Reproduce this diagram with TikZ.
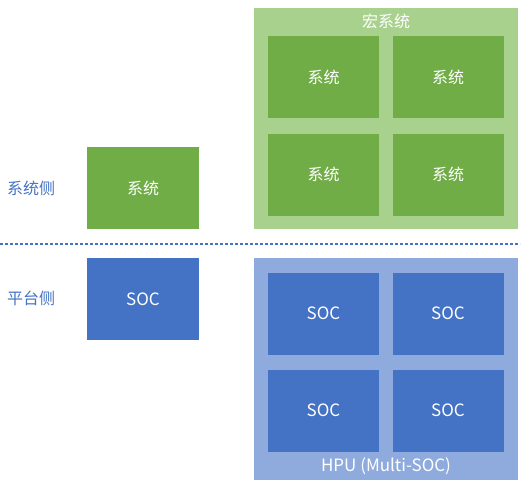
\documentclass[tikz,border=0pt]{standalone}
\usepackage{fontspec}
\setmainfont{Noto Sans CJK SC}
\definecolor{lightgreen}{RGB}{169,209,142}
\definecolor{darkgreen}{RGB}{112,173,71}
\definecolor{lightblue}{RGB}{143,170,220}
\definecolor{darkblue}{RGB}{68,114,196}
\tikzset{
    outerbox/.style={anchor=north west,inner sep=0pt,outer sep=0pt},
    sysbox/.style={fill=darkgreen,text=white,minimum width=111pt,minimum height=82pt,inner sep=0pt,font=\fontsize{16}{19}\selectfont},
    socbox/.style={fill=darkblue,text=white,minimum width=111pt,minimum height=82pt,inner sep=0pt,font=\fontsize{17}{20}\selectfont},
    sidelabel/.style={text=darkblue,inner sep=0.75pt,font=\fontsize{16}{19}\selectfont}
}
\begin{document}
\begin{tikzpicture}[x=1pt,y=1pt,yscale=-1,xscale=1]
        \useasboundingbox (0,0) rectangle (524,488);

        % Macro system frame
        \node [outerbox,fill=lightgreen,minimum width=264pt,minimum height=221pt] (macro) at (254,8) {};
        \node [text=white,inner sep=0.75pt,font=\fontsize{16}{19}\selectfont] (macrolabel) at (386,21) {宏系统};
        \node [sysbox] (sys11) at (323.5,77) {系统};
        \node [sysbox] (sys12) at (448,77) {系统};
        \node [sysbox] (sys21) at (323.5,174.5) {系统};
        \node [sysbox] (sys22) at (448,174.5) {系统};

        % Single system / SOC
        \node [sysbox,minimum width=112pt] (sys) at (143,188) {系统};
        \node [socbox,minimum width=112pt] (soc) at (143,299) {SOC};

        % Side labels
        \node [sidelabel] (syside) at (31,188) {系统侧};
        \node [sidelabel] (platside) at (31,298) {平台侧};

        % Divider
        \coordinate (divl) at (0,244);
        \coordinate (divr) at (520,244);
        \draw [darkblue,line width=1.5pt,dash pattern=on 3pt off 2pt] (divl) -- (divr);

        % HPU frame
        \node [outerbox,fill=lightblue,minimum width=264pt,minimum height=222pt] (hpu) at (254,258) {};
        \node [socbox] (soc11) at (323.5,313.5) {SOC};
        \node [socbox] (soc12) at (448,313.5) {SOC};
        \node [socbox] (soc21) at (323.5,410.5) {SOC};
        \node [socbox] (soc22) at (448,410.5) {SOC};
        \node [text=white,inner sep=0.75pt,font=\fontsize{17}{20}\selectfont] (hpulabel) at (386,466) {HPU (Multi-SOC)};
\end{tikzpicture}
\end{document}
